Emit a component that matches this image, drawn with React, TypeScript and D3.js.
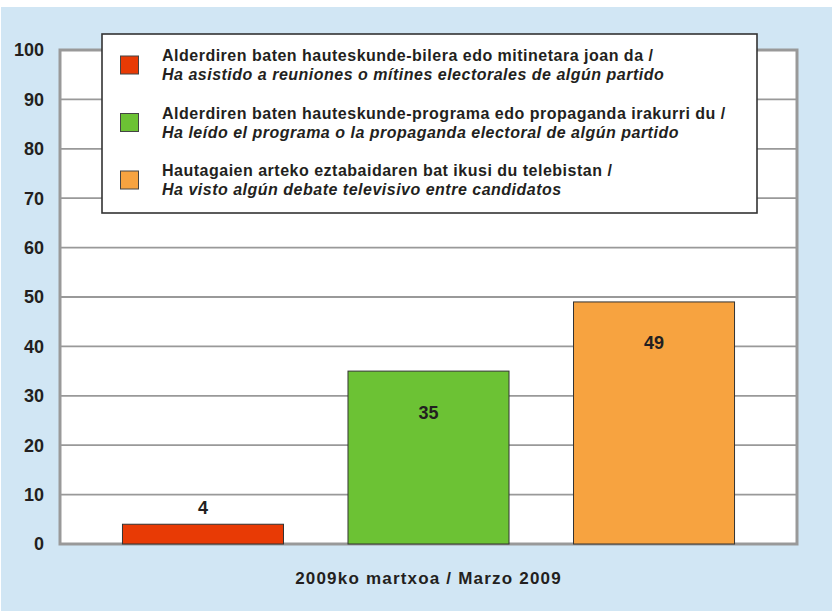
import { scaleBand, scaleLinear } from "d3";

const width = 832;
const height = 612;

const categories = ["mitinak", "programa", "eztabaida"];
const values = [4, 35, 49];
const colors = ["#E83A05", "#6CC234", "#F7A340"];
const yTicks = [0, 10, 20, 30, 40, 50, 60, 70, 80, 90, 100];
const legendBasque = [
  "Alderdiren baten hauteskunde-bilera edo mitinetara joan da /",
  "Alderdiren baten hauteskunde-programa edo propaganda irakurri du /",
  "Hautagaien arteko eztabaidaren bat ikusi du telebistan /",
];
const legendSpanish = [
  "Ha asistido a reuniones o mítines electorales de algún partido",
  "Ha leído el programa o la propaganda electoral de algún partido",
  "Ha visto algún debate televisivo entre candidatos",
];
const xLabel = "2009ko martxoa / Marzo 2009";

const plot = { left: 60, right: 797, top: 50, bottom: 544 };
const font = "'Liberation Sans', Arial, sans-serif";
const ink = "#231F20";

const App = () => {
  const x = scaleBand<string>()
    .domain(categories)
    .range([plot.left, plot.right])
    .paddingInner(0.286)
    .paddingOuter(0.277);
  const y = scaleLinear().domain([0, 100]).range([plot.bottom, plot.top]);

  return (
    <svg
      width={width}
      height={height}
      style={{ position: "absolute", left: 0, top: 0 }}
    >
      <rect x={0} y={0} width={width} height={height} fill="#fff" />
      <rect x={1} y={7} width={831} height={604} fill="#D1E6F4" />
      <rect
        x={plot.left}
        y={plot.top}
        width={plot.right - plot.left}
        height={plot.bottom - plot.top}
        fill="#fff"
      />
      {yTicks.map((t) => (
        <g key={t}>
          <line
            x1={plot.left}
            x2={plot.right}
            y1={y(t)}
            y2={y(t)}
            stroke="#999"
            strokeWidth={1.8}
          />
          <text
            x={44}
            y={y(t)}
            dy="0.36em"
            textAnchor="end"
            fontFamily={font}
            fontWeight="bold"
            fontSize={18}
            fill={ink}
          >
            {t}
          </text>
        </g>
      ))}
      <rect
        x={plot.left}
        y={plot.top}
        width={plot.right - plot.left}
        height={plot.bottom - plot.top}
        fill="none"
        stroke="#999"
        strokeWidth={3}
      />
      {categories.map((c, i) => {
        const v = values[i];
        const bx = x(c)!;
        const top = y(v);
        const inside = plot.bottom - top > 60;
        return (
          <g key={c}>
            <rect
              x={bx}
              y={top}
              width={x.bandwidth()}
              height={plot.bottom - top}
              fill={colors[i]}
              stroke="#333"
              strokeWidth={1}
            />
            <text
              x={bx + x.bandwidth() / 2}
              y={inside ? top + 41 : top - 17}
              dy="0.36em"
              textAnchor="middle"
              fontFamily={font}
              fontWeight="bold"
              fontSize={18}
              fill={ink}
            >
              {v}
            </text>
          </g>
        );
      })}
      <text
        x={(plot.left + plot.right) / 2}
        y={578}
        dy="0.36em"
        textAnchor="middle"
        fontFamily={font}
        fontWeight="bold"
        fontSize={17}
        letterSpacing={1.2}
        fill={ink}
      >
        {xLabel}
      </text>

      {/* legend */}
      <rect
        x={102}
        y={34}
        width={655}
        height={179}
        fill="#fff"
        stroke="#333"
        strokeWidth={1.6}
      />
      {legendBasque.map((t, i) => {
        const iy = 56 + i * 57.5;
        return (
          <g key={t}>
            <rect
              x={120.5}
              y={iy}
              width={18}
              height={18}
              fill={colors[i]}
              stroke="#444"
              strokeWidth={1}
            />
            <text
              x={162}
              y={iy + 5}
              fontFamily={font}
              fontWeight="bold"
              fontSize={16}
              letterSpacing={0.5}
              fill={ink}
            >
              {t}
            </text>
            <text
              x={162}
              y={iy + 24}
              fontFamily={font}
              fontWeight="bold"
              fontStyle="italic"
              fontSize={16}
              letterSpacing={0.5}
              fill={ink}
            >
              {legendSpanish[i]}
            </text>
          </g>
        );
      })}
    </svg>
  );
};

export default App;
